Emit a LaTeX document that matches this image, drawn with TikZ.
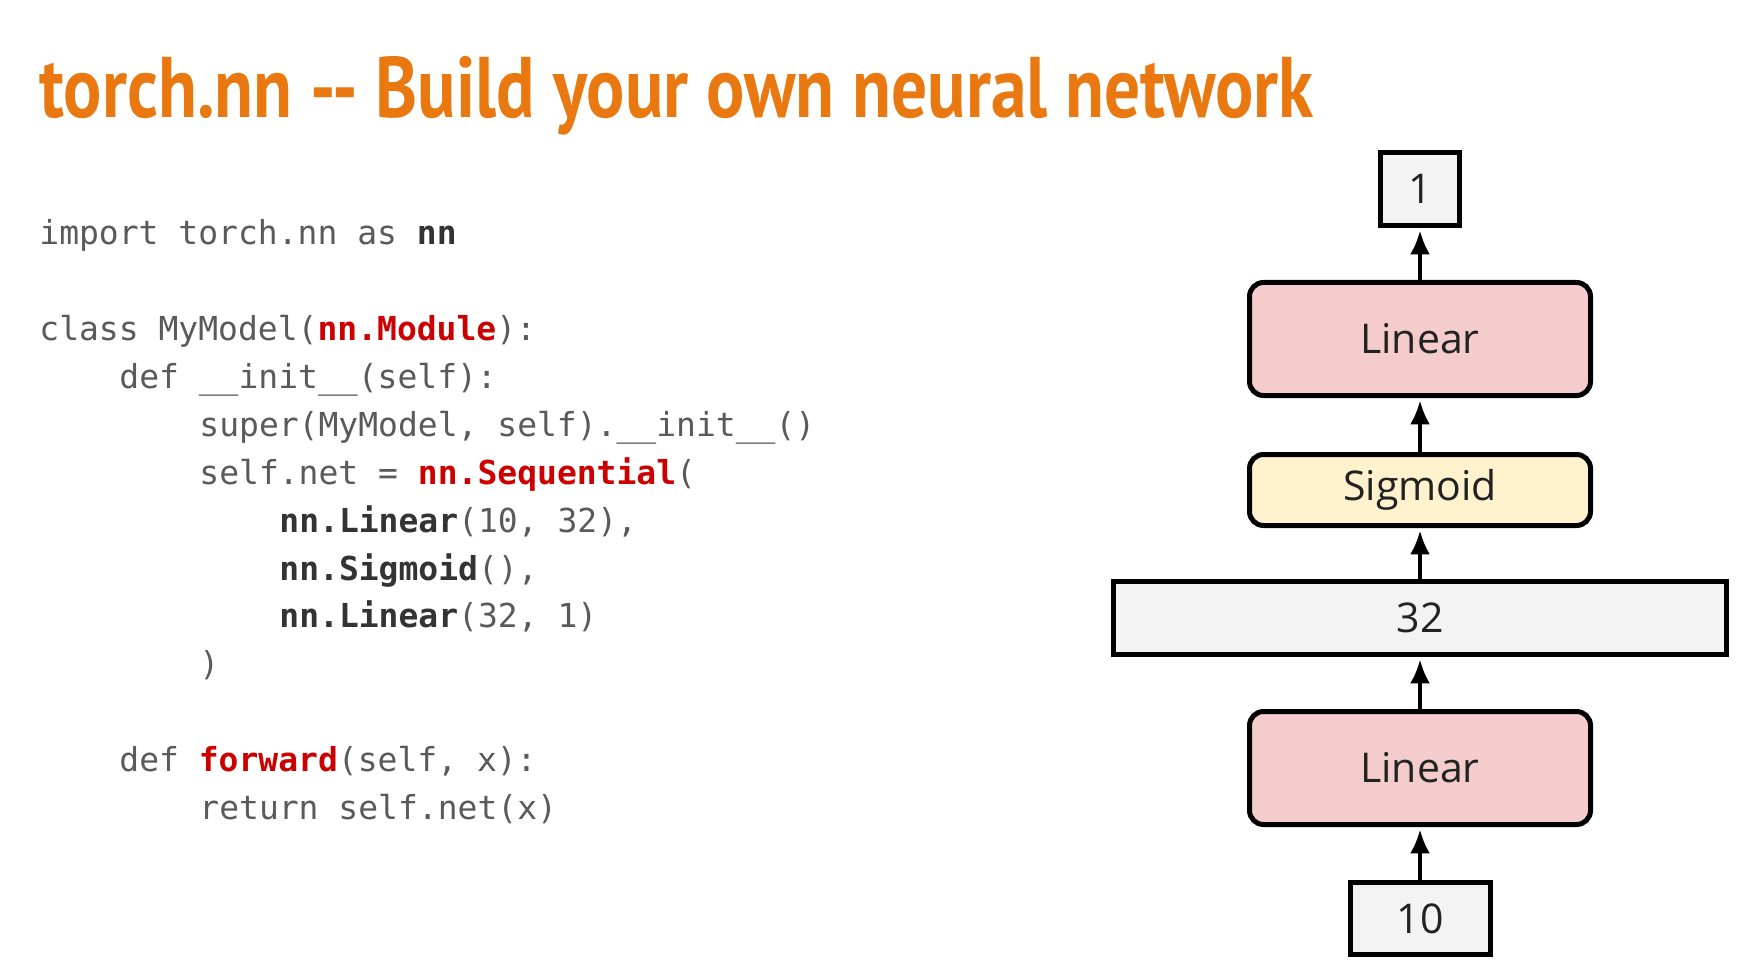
\documentclass[tikz,border=0pt]{standalone}
\usepackage{fontspec}
\setmainfont{Open Sans}
\setmonofont{DejaVu Sans Mono}
\newfontfamily\titlefont[FakeStretch=0.83]{PT Sans}
\usetikzlibrary{arrows.meta}

\definecolor{titleorange}{HTML}{E8780F}
\definecolor{codegray}{HTML}{5A5A5A}
\definecolor{codedark}{HTML}{333333}
\definecolor{codered}{HTML}{CC0000}
\definecolor{boxgray}{HTML}{F3F3F3}
\definecolor{boxpink}{HTML}{F4CCCC}
\definecolor{boxyellow}{HTML}{FFF2CC}
\definecolor{ink}{HTML}{222222}

\newcommand{\kw}[1]{{\bfseries\color{codedark}#1}}
\newcommand{\hl}[1]{{\bfseries\color{codered}#1}}

\tikzset{
  codeline/.style={anchor=base west, inner sep=0pt, font=\ttfamily\fontsize{16.5}{20}\selectfont, text=codegray},
  layerbox/.style={draw=black, line width=2.5pt, text=ink, inner sep=0pt,
    font=\fontsize{20.5}{24}\selectfont},
  valuebox/.style={layerbox, fill=boxgray},
  linearbox/.style={layerbox, fill=boxpink, rounded corners=7pt,
    minimum width=170.5pt, minimum height=56.5pt},
  actbox/.style={layerbox, fill=boxyellow, rounded corners=7pt,
    minimum width=170.5pt, minimum height=35.5pt},
  flow/.style={line width=2pt, -{Latex[length=12pt,width=10pt]}, shorten >=1.2pt}
}

\begin{document}
\begin{tikzpicture}[x=0.5pt,y=-0.5pt]
\useasboundingbox[fill=white] (0,0) rectangle (1764,962);

% heading
\node[anchor=base west, inner sep=0pt, text=titleorange,
      font=\titlefont\bfseries\fontsize{43}{50}\selectfont]
  (title) at (39,118) {torch.nn -- Build your own neural network};

% source listing
\node[codeline] (c1)  at (39,245)  {import torch.nn as \kw{nn}};
\node[codeline] (c2)  at (39,341)  {class MyModel(\hl{nn.Module}):};
\node[codeline] (c3)  at (119,388) {def \_\_init\_\_(self):};
\node[codeline] (c4)  at (199,436) {super(MyModel, self).\_\_init\_\_()};
\node[codeline] (c5)  at (199,484) {self.net = \hl{nn.Sequential}(};
\node[codeline] (c6)  at (279,532) {\kw{nn.Linear}(10, 32),};
\node[codeline] (c7)  at (279,580) {\kw{nn.Sigmoid}(),};
\node[codeline] (c8)  at (279,627) {\kw{nn.Linear}(32, 1)};
\node[codeline] (c9)  at (199,675) {)};
\node[codeline] (c10) at (119,771) {def \hl{forward}(self, x):};
\node[codeline] (c11) at (199,819) {return self.net(x)};

% network stack, bottom to top
\node[valuebox, minimum width=70pt, minimum height=36pt] (in) at (1420,918.5) {10};
\node[linearbox] (lin1) at (1420,768) {Linear};
\node[valuebox, minimum width=306.5pt, minimum height=36.5pt] (hid) at (1420,618) {32};
\node[actbox] (sig) at (1420,490) {Sigmoid};
\node[linearbox] (lin2) at (1420,339) {Linear};
\node[valuebox, minimum width=39.5pt, minimum height=36.5pt] (out) at (1420,189) {1};

\draw[flow] (in.north) -- (lin1.south);
\draw[flow] (lin1.north) -- (hid.south);
\draw[flow] (hid.north) -- (sig.south);
\draw[flow] (sig.north) -- (lin2.south);
\draw[flow] (lin2.north) -- (out.south);
\end{tikzpicture}
\end{document}
